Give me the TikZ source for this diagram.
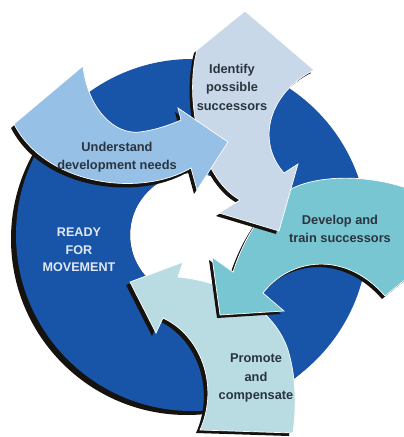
\documentclass[tikz,border=0pt]{standalone}
\usepackage{fontspec}
\setmainfont{Liberation Sans}
\definecolor{ringblue}{RGB}{24,84,168}
\definecolor{undblue}{RGB}{150,192,229}
\definecolor{idgrey}{RGB}{200,216,232}
\definecolor{devteal}{RGB}{120,198,210}
\definecolor{promteal}{RGB}{184,220,226}
\definecolor{shadowcol}{RGB}{22,18,14}
\definecolor{txtcol}{RGB}{42,52,64}
\definecolor{rdycol}{RGB}{225,232,244}
\tikzset{
  undshape/.style={insert path={(14,124) -- (83,66) .. controls (88,110) and (115,135) .. (140,132) .. controls (155,130) and (170,125) .. (181,120) -- (178,108) -- (228,142) -- (197,190) -- (191,168) .. controls (140,198) and (45,185) .. (14,124) -- cycle}},
  idshape/.style={insert path={(245,11) -- (314,70) .. controls (270,92) and (255,140) .. (284,173) -- (298,164) -- (279,231) -- (219,213) -- (240,200) .. controls (200,178) and (184,100) .. (197,50) -- cycle}},
  devshape/.style={insert path={(412,190) .. controls (370,174) and (320,175) .. (293,188) .. controls (265,205) and (245,235) .. (233,272) -- (212,257) -- (220,315) -- (284,311) -- (263,293) .. controls (290,258) and (345,250) .. (385,296) -- (412,274) -- cycle}},
  promshape/.style={insert path={(130,282) -- (183,262) -- (178,277) .. controls (230,282) and (275,310) .. (288,350) .. controls (297,380) and (296,410) .. (293,433) -- (200,430) .. controls (220,385) and (200,335) .. (163,318) -- (156,333) -- cycle}},
  lbl/.style={font=\fontsize{12.8}{18.5}\selectfont\bfseries, text=txtcol, align=center, inner sep=0pt},
  rdy/.style={font=\fontsize{12.6}{17.5}\selectfont\bfseries, text=rdycol, align=center, inner sep=0pt},
  edgeline/.style={draw=white, line width=0.7pt}
}
\begin{document}
\begin{tikzpicture}[x=1pt,y=-1pt]
\useasboundingbox (0,0) rectangle (404,437);
\fill[white] (0,0) rectangle (404,437);
\clip (0,0) rectangle (404,437);
% ring shadow and ring
\fill[shadowcol, even odd rule] (187,239) circle [radius=176pt] (192,235) circle [radius=62pt];
\fill[ringblue, even odd rule] (192,235) circle [radius=176pt] (192,235) circle [radius=62pt];
% Promote
\begin{scope}[shift={(-4,3)}] \fill[shadowcol, promshape]; \end{scope}
\path[fill=promteal, edgeline, promshape];
% Develop
\begin{scope}[shift={(-3,3)}] \fill[shadowcol, devshape]; \end{scope}
\path[fill=devteal, edgeline, devshape];
% Identify
\begin{scope}[shift={(-3,3)}] \fill[shadowcol, idshape]; \end{scope}
\path[fill=idgrey, edgeline, idshape];
% Understand
\begin{scope}[shift={(-3,4)}] \fill[shadowcol, undshape]; \end{scope}
\path[fill=undblue, edgeline, undshape];
% labels
\node[lbl] (und) at (117,157) {Understand\\development needs};
\node[lbl] (idf) at (232,87) {Identify\\possible\\successors};
\node[lbl] (dev) at (340,229) {Develop and\\train successors};
\node[lbl] (prm) at (256,378) {Promote\\and\\compensate};
\node[rdy] (rdy) at (79,250) {READY\\FOR\\MOVEMENT};
\end{tikzpicture}
\end{document}
